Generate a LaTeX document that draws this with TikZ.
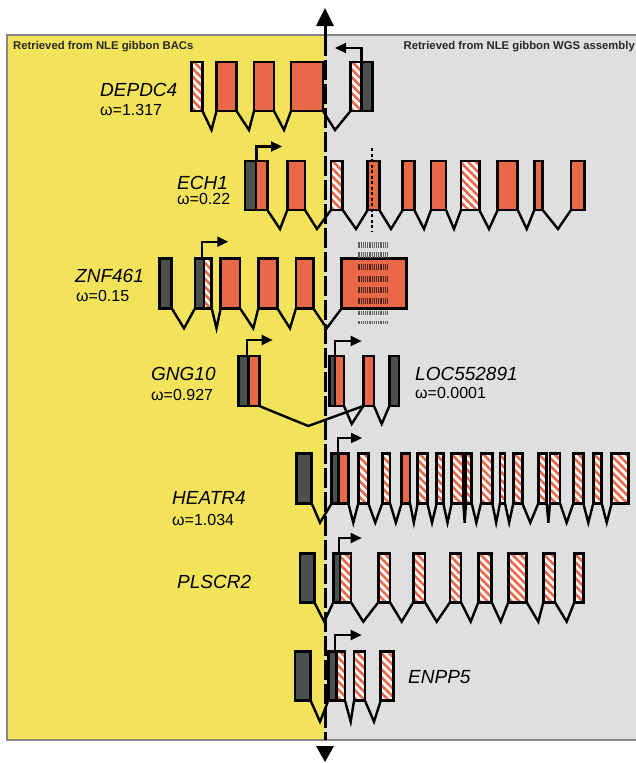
\documentclass[tikz,border=0pt]{standalone}
\usepackage{fontspec}
\setmainfont{Liberation Sans}
\usetikzlibrary{arrows.meta,patterns.meta}
\definecolor{bgyellow}{RGB}{243,227,90}
\definecolor{bggrey}{RGB}{221,223,225}
\definecolor{exorange}{RGB}{232,104,72}
\definecolor{utrgrey}{RGB}{74,80,76}
\definecolor{panelline}{RGB}{135,135,135}
\definecolor{headgrey}{RGB}{40,40,40}
\definecolor{bargrey}{RGB}{95,95,95}
\definecolor{bardark}{RGB}{80,35,28}
\tikzset{
  exline/.style={draw=black,line width=2.5pt,line join=miter},
  oex/.style={exline,fill=exorange},
  gex/.style={exline,fill=utrgrey},
  hex/.style={exline,preaction={fill=white},pattern={Lines[angle=-45,distance=5.6pt,line width=2.6pt]},pattern color=exorange},
  intron/.style={draw=black,line width=2.4pt,line join=miter},
  tss/.style={draw=black,line width=2.3pt,-{Triangle[length=11pt,width=10pt]}},
  gname/.style={anchor=base west,inner sep=0pt,font=\fontsize{19}{21}\selectfont\itshape,text=black},
  omega/.style={anchor=base west,inner sep=0pt,font=\fontsize{16}{18}\selectfont,text=black},
  header/.style={inner sep=0pt,font=\fontsize{11.3}{13}\selectfont\bfseries,text=headgrey},
  barcode/.style={line width=#1,dash pattern=on 1.3pt off 0.9pt},
  divider/.style={draw=black,line width=3pt},
}
\newcommand{\exb}[3]{\path[#1] (#2,\yT) rectangle (#3,\yB);}
\newcommand{\intr}[3]{\draw[intron] (#1,\yB) -- (#2,\yD) -- (#3,\yB);}
\newcommand{\tssarr}[3]{\draw[tss] (#1,\yT) -- (#1,#2) -- (#3,#2);}
\begin{document}
\begin{tikzpicture}[x=1pt,y=-1pt]
\useasboundingbox (0,0) rectangle (636,763);
% panels
\fill[bgyellow] (7,35) rectangle (325,740);
\fill[bggrey] (325,35) rectangle (636,740);
\draw[panelline,line width=1.3pt] (636,35) -- (7,35) -- (7,740) -- (636,740);
\node[header,anchor=base west] (hl) at (13,49.5) {Retrieved from NLE gibbon BACs};
\node[header,anchor=base east] (hr) at (635,49.5) {Retrieved from NLE gibbon WGS assembly};
% divider
\draw[divider,-{Triangle[length=18pt,width=17pt]}] (325,36) -- (325,8);
\draw[divider,dash pattern=on 20pt off 4pt] (325,36) -- (325,740);
\fill[black] (316,746) -- (334,746) -- (325,762) -- cycle;

% ---------- DEPDC4
\def\yT{62}\def\yB{111}\def\yD{130}
\intr{202.5}{211.5}{216.5}\intr{236.5}{249}{254}\intr{274}{284}{291}\intr{323}{335}{350.5}
\exb{hex}{191.5}{202.5}\exb{oex}{216.5}{236.5}\exb{oex}{254}{274}\exb{oex}{291}{323}
\exb{hex}{350.5}{361.5}\exb{gex}{361.5}{372.5}
\tssarr{361.5}{48}{335}
\node[gname] (depdc4) at (100,96) {DEPDC4};
\node[omega] (wdepdc4) at (100,115) {ω=1.317};

% ---------- ECH1
\def\yT{161}\def\yB{210}\def\yD{229}
\intr{267.3}{280}{287.3}\intr{305}{317}{331}\intr{342.7}{356}{367.7}\intr{379.3}{391}{402.7}
\intr{414.3}{424}{431}\intr{446}{454}{461}\intr{479.3}{489}{497.7}\intr{517.7}{526.7}{534.3}\intr{542.7}{558}{571}
\exb{gex}{245}{256}\exb{oex}{256}{267.3}\exb{oex}{287.3}{305}\exb{hex}{331}{342.7}\exb{oex}{367.7}{379.3}
\exb{oex}{402.7}{414.3}\exb{oex}{431}{446}\exb{hex}{461}{479.3}\exb{oex}{497.7}{517.7}\exb{oex}{534.3}{542.7}\exb{oex}{571}{584.3}
\draw[line width=1.8pt,dash pattern=on 3pt off 2.5pt] (372,148) -- (372,231);
\tssarr{256.5}{146.5}{282}
\node[gname] (ech1) at (177,189.5) {ECH1};
\node[omega] (wech1) at (177,204.5) {ω=0.22};

% ---------- ZNF461
\def\yT{258.3}\def\yB{308.3}\def\yD{328.3}
\intr{171.7}{184}{195}\intr{211.7}{216.5}{220.7}\intr{240}{253.3}{258.3}\intr{277.3}{290}{296}\intr{313.3}{326.7}{341.7}
\exb{gex}{159.3}{171.7}\exb{gex}{195}{204}\exb{hex}{204}{211.7}\exb{oex}{220.7}{240}\exb{oex}{258.3}{277.3}
\exb{oex}{296}{313.3}\exb{oex}{341.7}{406.7}
\foreach \yy/\lw/\cc in {245/6/bargrey,255/6/bargrey,267/6/bardark,278.5/6/bardark,290/6/bardark,301/6/bardark,312.5/4/bargrey,322/3/bargrey}
  \draw[barcode=\lw pt,draw=\cc] (358.3,\yy) -- (388.3,\yy);
\tssarr{201.7}{241.7}{228.3}
\node[gname] (znf461) at (75,282.7) {ZNF461};
\node[omega] (wznf461) at (76,301.7) {ω=0.15};

% ---------- GNG10 / LOC552891
\def\yT{356}\def\yB{406}\def\yD{424}
\draw[intron] (259.3,406) -- (308.3,426) -- (363.3,406);
\intr{344}{351.7}{363.3}\intr{374}{381.7}{389.3}
\exb{gex}{238.3}{248.3}\exb{oex}{248.3}{259.3}
\exb{gex}{329.3}{335}\exb{oex}{335}{344}\exb{oex}{363.3}{374}\exb{gex}{389.3}{399}
\tssarr{246.7}{340}{272.7}
\tssarr{335}{341}{361.7}
\node[gname] (gng10) at (151,380) {GNG10};
\node[omega] (wgng10) at (151,400) {ω=0.927};
\node[gname] (loc) at (415,380) {LOC552891};
\node[omega] (wloc) at (415,398) {ω=0.0001};

% ---------- HEATR4
\def\yT{453.3}\def\yB{503.3}\def\yD{522.7}
\intr{311.7}{320}{331.7}
\foreach \a/\b in {348.3/358.3,368.3/382.3,390/401.7,410/417.7,427.3/436.7,443.3/451.7,463.3/466,471.7/481,492.3/500,505/513.3,522.3/538.3,546.7/550,560/573.3,583.3/593.3,601.7/611.7}{
  \pgfmathsetmacro\mm{(\a+\b)/2}
  \draw[intron] (\a,\yB) -- (\mm,\yD) -- (\b,\yB);
}
\exb{gex}{296.7}{311.7}\exb{gex}{331.7}{338.3}\exb{oex}{338.3}{348.3}
\exb{hex}{358.3}{368.3}\exb{hex}{382.3}{390}\exb{oex}{401.7}{410}\exb{hex}{417.7}{427.3}\exb{hex}{436.7}{443.3}
\exb{hex}{451.7}{463.3}\exb{hex}{466}{471.7}\exb{hex}{481}{492.3}\exb{hex}{500}{505}\exb{hex}{513.3}{522.3}
\exb{hex}{538.3}{546.7}\exb{hex}{550}{560}\exb{hex}{573.3}{583.3}\exb{hex}{593.3}{601.7}\exb{hex}{611.7}{628.3}
\tssarr{338.3}{438}{362}
\node[gname] (heatr4) at (172,504) {HEATR4};
\node[omega] (wheatr4) at (172,525) {ω=1.034};

% ---------- PLSCR2
\def\yT{553.3}\def\yB{602.3}\def\yD{621.7}
\intr{314.3}{324.3}{333.3}\intr{351}{363.3}{378.3}\intr{390}{401.7}{413.3}\intr{425}{436.7}{450}
\intr{461}{470.7}{478.3}\intr{491.7}{500.7}{508.3}\intr{526.7}{538.3}{543.3}\intr{555}{566.7}{574.3}
\exb{gex}{300}{314.3}\exb{gex}{333.3}{340}\exb{hex}{340}{351}\exb{hex}{378.3}{390}\exb{hex}{413.3}{425}
\exb{hex}{450}{461}\exb{hex}{478.3}{491.7}\exb{hex}{508.3}{526.7}\exb{hex}{543.3}{555}\exb{hex}{574.3}{583.3}
\tssarr{339.3}{538}{361.7}
\node[gname] (plscr2) at (177,588) {PLSCR2};

% ---------- ENPP5
\def\yT{651.7}\def\yB{700.7}\def\yD{721.7}
\intr{310.7}{320}{328.3}\intr{345}{350.7}{354}\intr{365}{374}{380.7}
\exb{gex}{295}{310.7}\exb{gex}{328.3}{336.7}\exb{hex}{336.7}{345}\exb{hex}{354}{365}\exb{hex}{380.7}{393.3}
\tssarr{335}{635}{361.7}
\node[gname] (enpp5) at (408,683) {ENPP5};
\end{tikzpicture}
\end{document}
